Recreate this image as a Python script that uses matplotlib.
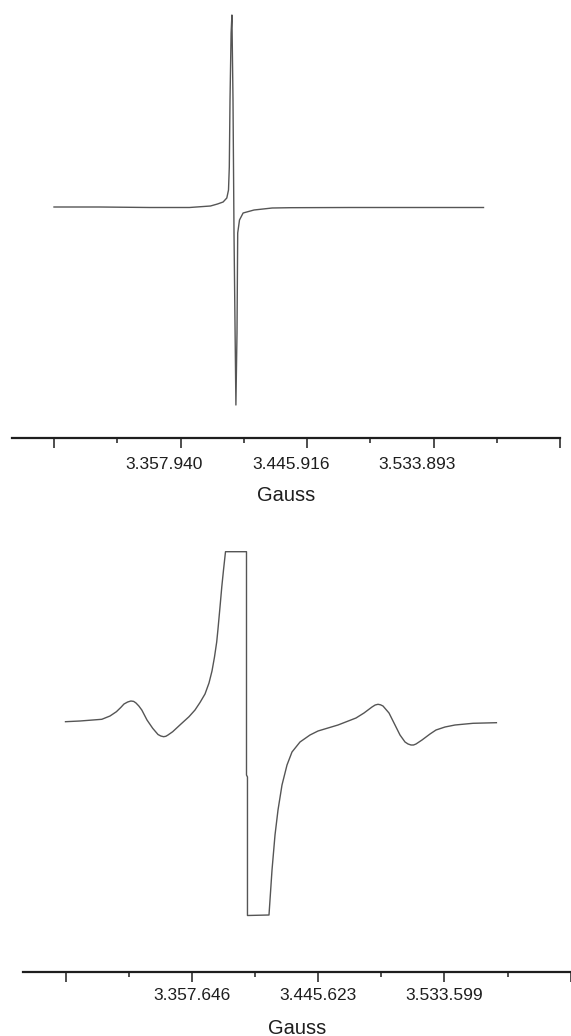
import numpy as np
import matplotlib
matplotlib.use('Agg')
import matplotlib.pyplot as plt
from matplotlib.transforms import ScaledTranslation

# upper spectrum (field in Gauss, signal in arbitrary units)
field_top = [3269.96, 3301.61, 3336.38, 3364.20, 3378.80, 3383.67, 3387.57, 3390.14,
             3391.32, 3391.88, 3392.37, 3393.13, 3393.69, 3394.45, 3395.15, 3395.91,
             3396.47, 3397.23, 3397.72, 3398.97, 3401.48, 3409.06, 3421.72, 3434.44,
             3475.48, 3524.16, 3568.67]
signal_top = [0, 0, -0.5, -0.5, 1, 3, 5, 9,
              17, 40, 107, 174, 192, 107, -26, -126,
              -198, -126, -26, -13, -6, -3, -1, -0.7,
              -0.5, -0.5, -0.5]
ticks_top = [3269.964, 3357.940, 3445.916, 3533.893, 3621.869]
labels_top = ['', '3.357.940', '3.445.916', '3.533.893', '']

# lower spectrum (clipped central line)
field_bot = [3269.50, 3279.60, 3294.79, 3300.51, 3304.97, 3308.0, 3310.26, 3312.8,
             3315.07, 3317.0, 3318.62, 3320.6, 3322.66, 3326.29, 3330.26, 3333.95,
             3335.9, 3337.86, 3339.4, 3340.92, 3344.20, 3349.98, 3355.56, 3359.74,
             3363.22, 3366.71, 3369.49, 3371.58, 3373.32, 3374.86, 3375.76, 3377.16,
             3378.41, 3379.60, 3380.99, 3395.62, 3395.62, 3396.30, 3396.30, 3411.30,
             3412.00, 3413.40, 3415.49, 3417.58, 3420.36, 3423.85, 3427.33, 3432.91,
             3439.88, 3445.45, 3459.39, 3471.93, 3477.50, 3483.08, 3485.3, 3487.26,
             3489.0, 3490.74, 3494.93, 3499.11, 3502.59, 3506.08, 3508.2, 3510.26,
             3512.0, 3513.74, 3517.92, 3523.50, 3527.68, 3533.95, 3540.92, 3553.46,
             3569.77]
signal_bot = [0.3, 1, 2.7, 6, 10.3, 14.5, 18, 20,
              21, 20.6, 19, 16, 12, 2, -6.3, -12.5,
              -14, -14.7, -14.3, -13, -9.7, -2, 5.3, 12,
              19.5, 28, 39, 51, 65, 80, 93, 115,
              135.3, 152, 170.3, 170.3, -53, -55, -193.5, -193,
              -178, -148, -113, -88, -63, -43, -30, -20,
              -13, -9, -3, 4, 9, 15, 17, 17.7,
              17.2, 16, 9, -3, -13, -20, -22, -23,
              -23, -22, -18, -12, -8, -5, -3, -1.3,
              -0.7]
ticks_bot = [3269.669, 3357.646, 3445.623, 3533.599, 3621.576]
labels_bot = ['', '3.357.646', '3.445.623', '3.533.599', '']

plt.rcParams['font.family'] = ['Liberation Sans', 'DejaVu Sans']

W, H = 571, 1036
fig = plt.figure(figsize=(W / 100, H / 100), dpi=100)

# axes placed in pixel terms: (left, right, top, bottom spine)
ax1 = fig.add_axes([12 / W, 1 - 438 / H, 548 / W, 428 / H])
ax2 = fig.add_axes([23 / W, 1 - 972 / H, 548 / W, 432 / H])


def style(ax, ticks, labels, pad):
    for s in ['left', 'right', 'top']:
        ax.spines[s].set_visible(False)
    ax.spines['bottom'].set_color('#1e1e1e')
    ax.spines['bottom'].set_linewidth(1.6)
    ax.set_yticks([])
    ax.set_xticks(ticks)
    ax.set_xticklabels(labels)
    ax.set_xticks([(a + b) / 2 for a, b in zip(ticks[:-1], ticks[1:])], minor=True)
    ax.tick_params(axis='x', which='major', direction='out', length=7.2, width=1.1,
                   color='#1e1e1e', labelsize=12.5, labelcolor='#1e1e1e', pad=pad)
    ax.tick_params(axis='x', which='minor', direction='out', length=3.6, width=1.1,
                   color='#1e1e1e')
    ax.set_facecolor('none')


ax1.plot(field_top, signal_top, color='#555555', lw=1.0)
ax1.set_xlim(3240.75, 3621.87)
ax1.set_ylim(-231, 197)
style(ax1, ticks_top, labels_top, 6.8)
ax1.set_xlabel('Gauss', fontsize=14.5, color='#1e1e1e')
ax1.xaxis.set_label_coords(0.5, -0.113)
# tick labels of the upper scale sit a bit left of their ticks
shift = ScaledTranslation(-0.16, 0, fig.dpi_scale_trans)
for lab in ax1.get_xticklabels():
    lab.set_transform(lab.get_transform() + shift)

ax2.plot(field_bot, signal_bot, color='#555555', lw=1.0)
ax2.set_xlim(3239.88, 3621.75)
ax2.set_ylim(-250, 182)
style(ax2, ticks_bot, labels_bot, 4.0)
ax2.set_xlabel('Gauss', fontsize=14.5, color='#1e1e1e')
ax2.xaxis.set_label_coords(0.5, -0.108)

fig.savefig('out.png', dpi=100)
